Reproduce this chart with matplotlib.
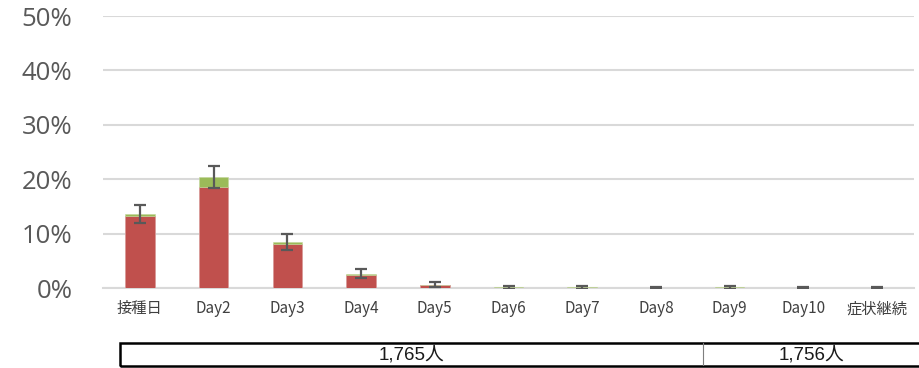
import matplotlib
matplotlib.use("Agg")
import matplotlib.pyplot as plt
from matplotlib.patches import Rectangle
import numpy as np

# Daily share of respondents reporting the symptom (%)
categories = ["接種日", "Day2", "Day3", "Day4", "Day5", "Day6",
              "Day7", "Day8", "Day9", "Day10", "症状継続"]
main_share = [13.2, 18.6, 8.2, 2.5, 0.55, 0.1, 0.1, 0.05, 0.1, 0.05, 0.05]
extra_share = [0.4, 1.8, 0.3, 0.2, 0.1, 0.05, 0.1, 0.05, 0.05, 0.05, 0.05]
error_half = [1.7, 2.0, 1.4, 0.8, 0.45, 0.25, 0.25, 0.2, 0.25, 0.2, 0.15]
y_ticks = [0, 10, 20, 30, 40, 50]
respondents = ["1,765人", "1,756人"]

RED = "#C0504D"
GREEN = "#9BBB59"
GRID = "#D9D9D9"
TEXT = "#595959"

plt.rcParams["font.family"] = ["Noto Sans CJK JP", "DejaVu Sans"]

fig = plt.figure(figsize=(9.19, 3.68), dpi=100)
ax = fig.add_axes([103 / 919, 1 - 288.3 / 368, (914 - 103) / 919, (288.3 - 16) / 368])

x = np.arange(len(categories))
main = np.array(main_share)
extra = np.array(extra_share)
total = main + extra

ax.bar(x, main, width=0.4, color=RED, edgecolor="#D99A98", linewidth=0.6, zorder=3)
ax.bar(x, extra, width=0.4, bottom=main, color=GREEN, edgecolor="#C3D69B",
       linewidth=0.4, zorder=3)
ax.errorbar(x, total, yerr=error_half, fmt="none", ecolor="#595959",
            elinewidth=1.6, capsize=4.5, capthick=1.6, zorder=4)

ax.set_xlim(-0.5, len(categories) - 0.5)
ax.set_ylim(0, 50)
ax.set_yticks(y_ticks)
ax.set_yticklabels([f"{v}%" for v in y_ticks], fontsize=18.5, color=TEXT,
                   family=["Open Sans", "DejaVu Sans"])
ax.set_xticks(x)
ax.set_xticklabels(categories, fontsize=11, color="#404040")
ax.tick_params(axis="y", length=0, pad=22)
ax.tick_params(axis="x", length=0, pad=8.5)

ax.grid(axis="y", color=GRID, linewidth=1.5, zorder=0)
ax.set_axisbelow(True)
for side in ("top", "right", "left"):
    ax.spines[side].set_visible(False)
ax.spines["bottom"].set_color(GRID)
ax.spines["bottom"].set_linewidth(1.5)

# Respondent count band under the chart
tab = fig.add_axes([120 / 919, 1 - 366 / 368, (925 - 120) / 919, (366 - 343) / 368])
tab.set_xlim(120, 925)
tab.set_ylim(0, 1)
tab.axis("off")
tab.add_patch(Rectangle((120, 0), 805, 1, fill=False, edgecolor="black",
                        linewidth=1.8, clip_on=False))
tab.plot([703, 703], [0, 1], color="#7F7F7F", linewidth=0.8)
band_font = ["Liberation Sans", "Noto Sans CJK JP"]
tab.text((120 + 703) / 2, 0.5, respondents[0], ha="center", va="center",
         fontsize=13.5, color="#1A1A1A", family=band_font)
tab.text((703 + 919) / 2, 0.5, respondents[1], ha="center", va="center",
         fontsize=13.5, color="#1A1A1A", family=band_font)

fig.savefig("out.png", dpi=100)
